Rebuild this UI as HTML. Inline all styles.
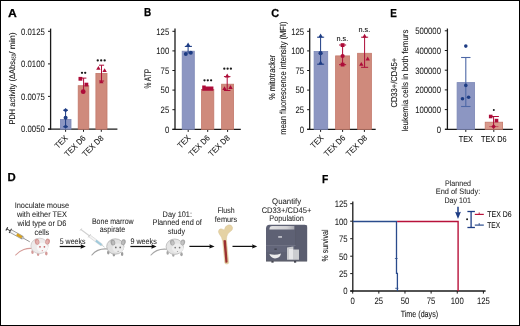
<!DOCTYPE html>
<html><head><meta charset="utf-8"><style>
html,body{margin:0;padding:0;background:#fff;}
svg{display:block;font-family:"Liberation Sans", sans-serif;will-change:transform;text-rendering:geometricPrecision;}
</style></head><body>
<svg width="520" height="326" viewBox="0 0 520 326">
<rect x="0" y="0" width="520" height="326" fill="#fff"/>
<text x="7.9" y="16.7" font-size="11.6" font-weight="bold" fill="#000" stroke="#000" stroke-width="0.25" textLength="8.8" lengthAdjust="spacingAndGlyphs">A</text>
<text x="143.9" y="16.4" font-size="11.6" font-weight="bold" fill="#000" stroke="#000" stroke-width="0.25" textLength="7.2" lengthAdjust="spacingAndGlyphs">B</text>
<text x="271.3" y="16.5" font-size="11.6" font-weight="bold" fill="#000" stroke="#000" stroke-width="0.25" textLength="7.8" lengthAdjust="spacingAndGlyphs">C</text>
<text x="390.2" y="16.8" font-size="11.6" font-weight="bold" fill="#000" stroke="#000" stroke-width="0.25" textLength="6.6" lengthAdjust="spacingAndGlyphs">E</text>
<text x="7.4" y="181.3" font-size="11.6" font-weight="bold" fill="#000" stroke="#000" stroke-width="0.25" textLength="8.2" lengthAdjust="spacingAndGlyphs">D</text>
<text x="322.0" y="183.2" font-size="11.6" font-weight="bold" fill="#000" stroke="#000" stroke-width="0.25" textLength="6.3" lengthAdjust="spacingAndGlyphs">F</text>
<line x1="50.6" y1="28.6" x2="50.6" y2="129.79999999999998" stroke="#1a1a1a" stroke-width="1.3"/>
<line x1="48.0" y1="31.3" x2="50.6" y2="31.3" stroke="#1a1a1a" stroke-width="1.0"/>
<text x="44.8" y="34.6" font-size="9.4" text-anchor="end" fill="#1a1a1a" font-weight="normal" stroke="#1a1a1a" stroke-width="0.05" textLength="23.7" lengthAdjust="spacingAndGlyphs" >0.0125</text>
<line x1="48.0" y1="63.9" x2="50.6" y2="63.9" stroke="#1a1a1a" stroke-width="1.0"/>
<text x="44.8" y="67.2" font-size="9.4" text-anchor="end" fill="#1a1a1a" font-weight="normal" stroke="#1a1a1a" stroke-width="0.05" textLength="23.7" lengthAdjust="spacingAndGlyphs" >0.0100</text>
<line x1="48.0" y1="96.4" x2="50.6" y2="96.4" stroke="#1a1a1a" stroke-width="1.0"/>
<text x="44.8" y="99.7" font-size="9.4" text-anchor="end" fill="#1a1a1a" font-weight="normal" stroke="#1a1a1a" stroke-width="0.05" textLength="23.7" lengthAdjust="spacingAndGlyphs" >0.0075</text>
<line x1="48.0" y1="129.0" x2="50.6" y2="129.0" stroke="#1a1a1a" stroke-width="1.0"/>
<text x="44.8" y="132.3" font-size="9.4" text-anchor="end" fill="#1a1a1a" font-weight="normal" stroke="#1a1a1a" stroke-width="0.05" textLength="23.7" lengthAdjust="spacingAndGlyphs" >0.0050</text>
<line x1="48.0" y1="129.2" x2="117.4" y2="129.2" stroke="#1a1a1a" stroke-width="1.3"/>
<line x1="65.6" y1="129.2" x2="65.6" y2="131.79999999999998" stroke="#1a1a1a" stroke-width="1.0"/>
<line x1="83.5" y1="129.2" x2="83.5" y2="131.79999999999998" stroke="#1a1a1a" stroke-width="1.0"/>
<line x1="101.3" y1="129.2" x2="101.3" y2="131.79999999999998" stroke="#1a1a1a" stroke-width="1.0"/>
<rect x="60.4" y="119.4" width="10.600000000000005" height="9.799999999999988" fill="#8c96c2" stroke="#7c88b6" stroke-width="0.8"/>
<rect x="78.2" y="85.7" width="10.600000000000005" height="43.49999999999999" fill="#cf8a7c" stroke="#c4796b" stroke-width="0.8"/>
<rect x="95.9" y="73.4" width="11.100000000000005" height="55.79999999999999" fill="#cf8a7c" stroke="#c4796b" stroke-width="0.8"/>
<line x1="65.6" y1="110.2" x2="65.6" y2="126.6" stroke="#1d3c84" stroke-width="1.0"/>
<line x1="63.2" y1="110.2" x2="68.0" y2="110.2" stroke="#1d3c84" stroke-width="1.0"/>
<path d="M65.6 108.0L67.8 110.2L65.6 112.4L63.39999999999999 110.2Z" fill="#1d3c84"/>
<circle cx="65.6" cy="117.8" r="2.0" fill="#1d3c84"/>
<line x1="63.2" y1="126.8" x2="68.0" y2="126.8" stroke="#1d3c84" stroke-width="1.0"/>
<path d="M65.6 124.39999999999999L67.8 126.6L65.6 128.79999999999998L63.39999999999999 126.6Z" fill="#1d3c84"/>
<line x1="83.6" y1="78.1" x2="83.6" y2="91.7" stroke="#ad0c38" stroke-width="1.0"/>
<line x1="80.6" y1="78.1" x2="86.4" y2="78.1" stroke="#ad0c38" stroke-width="1.0"/>
<rect x="78.5" y="76.89999999999999" width="3.8" height="3.8" fill="#ad0c38"/>
<rect x="84.5" y="82.69999999999999" width="3.8" height="3.8" fill="#ad0c38"/>
<circle cx="83.2" cy="91.7" r="2.4" fill="#ad0c38"/>
<line x1="101.5" y1="65.2" x2="101.5" y2="81.2" stroke="#ad0c38" stroke-width="1.0"/>
<line x1="99.0" y1="65.2" x2="104.1" y2="65.2" stroke="#ad0c38" stroke-width="1.0"/>
<line x1="99.0" y1="81.0" x2="104.1" y2="81.0" stroke="#ad0c38" stroke-width="1.0"/>
<path d="M98.4 65.9L100.60000000000001 69.7L96.2 69.7Z" fill="#ad0c38"/>
<path d="M104.6 68.30000000000001L106.8 72.10000000000001L102.39999999999999 72.10000000000001Z" fill="#ad0c38"/>
<path d="M101.3 79.5L103.5 83.3L99.1 83.3Z" fill="#ad0c38"/>
<circle cx="82.00" cy="72.8" r="1.15" fill="#1a1a1a"/>
<circle cx="85.20" cy="72.8" r="1.15" fill="#1a1a1a"/>
<circle cx="97.75" cy="60.4" r="1.15" fill="#1a1a1a"/>
<circle cx="101.20" cy="60.4" r="1.15" fill="#1a1a1a"/>
<circle cx="104.65" cy="60.4" r="1.15" fill="#1a1a1a"/>
<text transform="translate(68.39999999999999,138.7) rotate(-45)" font-size="8.2" text-anchor="end" fill="#111" stroke="#111" stroke-width="0.08" textLength="14.59" lengthAdjust="spacingAndGlyphs">TEX</text>
<text transform="translate(86.3,138.7) rotate(-45)" font-size="8.2" text-anchor="end" fill="#111" stroke="#111" stroke-width="0.08" textLength="26.26" lengthAdjust="spacingAndGlyphs">TEX D6</text>
<text transform="translate(104.1,138.7) rotate(-45)" font-size="8.2" text-anchor="end" fill="#111" stroke="#111" stroke-width="0.08" textLength="26.26" lengthAdjust="spacingAndGlyphs">TEX D8</text>
<g transform="translate(14.5,124.6) rotate(-90)" fill="#111" stroke="#111" stroke-width="0.08"><text x="0" y="0" font-size="8.3" textLength="63.5" lengthAdjust="spacingAndGlyphs">PDH activity (ΔAbs</text><text x="63.8" y="1.9" font-size="6.3" textLength="6.8" lengthAdjust="spacingAndGlyphs">450</text><text x="70.6" y="0" font-size="8.3" textLength="21.6" lengthAdjust="spacingAndGlyphs">/ min)</text></g>
<line x1="175.0" y1="28.5" x2="175.0" y2="129.9" stroke="#1a1a1a" stroke-width="1.3"/>
<line x1="172.4" y1="31.3" x2="175.0" y2="31.3" stroke="#1a1a1a" stroke-width="1.0"/>
<text x="169.2" y="34.6" font-size="9.4" text-anchor="end" fill="#1a1a1a" font-weight="normal" stroke="#1a1a1a" stroke-width="0.05" textLength="12.93" lengthAdjust="spacingAndGlyphs" >125</text>
<line x1="172.4" y1="50.9" x2="175.0" y2="50.9" stroke="#1a1a1a" stroke-width="1.0"/>
<text x="169.2" y="54.199999999999996" font-size="9.4" text-anchor="end" fill="#1a1a1a" font-weight="normal" stroke="#1a1a1a" stroke-width="0.05" textLength="12.93" lengthAdjust="spacingAndGlyphs" >100</text>
<line x1="172.4" y1="70.5" x2="175.0" y2="70.5" stroke="#1a1a1a" stroke-width="1.0"/>
<text x="169.2" y="73.8" font-size="9.4" text-anchor="end" fill="#1a1a1a" font-weight="normal" stroke="#1a1a1a" stroke-width="0.05" textLength="8.62" lengthAdjust="spacingAndGlyphs" >75</text>
<line x1="172.4" y1="90.1" x2="175.0" y2="90.1" stroke="#1a1a1a" stroke-width="1.0"/>
<text x="169.2" y="93.39999999999999" font-size="9.4" text-anchor="end" fill="#1a1a1a" font-weight="normal" stroke="#1a1a1a" stroke-width="0.05" textLength="8.62" lengthAdjust="spacingAndGlyphs" >50</text>
<line x1="172.4" y1="109.7" x2="175.0" y2="109.7" stroke="#1a1a1a" stroke-width="1.0"/>
<text x="169.2" y="113.0" font-size="9.4" text-anchor="end" fill="#1a1a1a" font-weight="normal" stroke="#1a1a1a" stroke-width="0.05" textLength="8.62" lengthAdjust="spacingAndGlyphs" >25</text>
<line x1="172.4" y1="129.3" x2="175.0" y2="129.3" stroke="#1a1a1a" stroke-width="1.0"/>
<text x="169.2" y="132.60000000000002" font-size="9.4" text-anchor="end" fill="#1a1a1a" font-weight="normal" stroke="#1a1a1a" stroke-width="0.05" textLength="4.31" lengthAdjust="spacingAndGlyphs" >0</text>
<line x1="172.4" y1="129.3" x2="240.8" y2="129.3" stroke="#1a1a1a" stroke-width="1.3"/>
<line x1="188.2" y1="129.3" x2="188.2" y2="131.9" stroke="#1a1a1a" stroke-width="1.0"/>
<line x1="207.7" y1="129.3" x2="207.7" y2="131.9" stroke="#1a1a1a" stroke-width="1.0"/>
<line x1="227.6" y1="129.3" x2="227.6" y2="131.9" stroke="#1a1a1a" stroke-width="1.0"/>
<rect x="182.20000000000002" y="51.199999999999996" width="12.099999999999977" height="78.10000000000001" fill="#8c96c2" stroke="#7c88b6" stroke-width="0.8"/>
<rect x="201.5" y="89.5" width="12.299999999999994" height="39.80000000000002" fill="#cf8a7c" stroke="#c4796b" stroke-width="0.8"/>
<rect x="221.6" y="84.2" width="12.00000000000001" height="45.100000000000016" fill="#cf8a7c" stroke="#c4796b" stroke-width="0.8"/>
<line x1="188.1" y1="46.4" x2="188.1" y2="53.6" stroke="#1d3c84" stroke-width="1.0"/>
<line x1="184.8" y1="46.4" x2="191.9" y2="46.4" stroke="#1d3c84" stroke-width="1.1"/>
<path d="M188.1 42.48L190.73999999999998 47.04L185.46 47.04Z" fill="#1d3c84"/>
<circle cx="185.8" cy="54.1" r="2.0" fill="#1d3c84"/>
<circle cx="190.8" cy="52.7" r="2.0" fill="#1d3c84"/>
<path d="M202.2 85.5H205.7V86.6H213.4V90.8H202.2Z" fill="#ad0c38"/>
<circle cx="204.50" cy="80.3" r="1.15" fill="#1a1a1a"/>
<circle cx="207.80" cy="80.3" r="1.15" fill="#1a1a1a"/>
<circle cx="211.10" cy="80.3" r="1.15" fill="#1a1a1a"/>
<line x1="227.2" y1="76.6" x2="227.2" y2="90.5" stroke="#ad0c38" stroke-width="1.0"/>
<line x1="223.95" y1="76.6" x2="230.45" y2="76.6" stroke="#ad0c38" stroke-width="1.0"/>
<line x1="223.95" y1="90.5" x2="230.45" y2="90.5" stroke="#ad0c38" stroke-width="1.0"/>
<path d="M227.2 73.395L229.51 77.38499999999999L224.89 77.38499999999999Z" fill="#ad0c38"/>
<path d="M224.5 86.2L226.7 90.0L222.3 90.0Z" fill="#ad0c38"/>
<path d="M230.5 85.10000000000001L232.7 88.9L228.3 88.9Z" fill="#ad0c38"/>
<circle cx="224.30" cy="68.7" r="1.15" fill="#1a1a1a"/>
<circle cx="227.60" cy="68.7" r="1.15" fill="#1a1a1a"/>
<circle cx="230.90" cy="68.7" r="1.15" fill="#1a1a1a"/>
<text transform="translate(191.0,138.5) rotate(-45)" font-size="8.2" text-anchor="end" fill="#111" stroke="#111" stroke-width="0.08" textLength="14.59" lengthAdjust="spacingAndGlyphs">TEX</text>
<text transform="translate(210.5,138.5) rotate(-45)" font-size="8.2" text-anchor="end" fill="#111" stroke="#111" stroke-width="0.08" textLength="26.26" lengthAdjust="spacingAndGlyphs">TEX D6</text>
<text transform="translate(230.4,138.5) rotate(-45)" font-size="8.2" text-anchor="end" fill="#111" stroke="#111" stroke-width="0.08" textLength="26.26" lengthAdjust="spacingAndGlyphs">TEX D8</text>
<text transform="translate(150.8,78.7) rotate(-90)" font-size="9.6" text-anchor="middle" fill="#111" stroke="#111" stroke-width="0.08" textLength="19.6" lengthAdjust="spacingAndGlyphs">% ATP</text>
<line x1="309.7" y1="28.3" x2="309.7" y2="129.9" stroke="#1a1a1a" stroke-width="1.3"/>
<line x1="307.09999999999997" y1="31.3" x2="309.7" y2="31.3" stroke="#1a1a1a" stroke-width="1.0"/>
<text x="304.1" y="34.6" font-size="9.4" text-anchor="end" fill="#1a1a1a" font-weight="normal" stroke="#1a1a1a" stroke-width="0.05" textLength="12.93" lengthAdjust="spacingAndGlyphs" >125</text>
<line x1="307.09999999999997" y1="50.9" x2="309.7" y2="50.9" stroke="#1a1a1a" stroke-width="1.0"/>
<text x="304.1" y="54.199999999999996" font-size="9.4" text-anchor="end" fill="#1a1a1a" font-weight="normal" stroke="#1a1a1a" stroke-width="0.05" textLength="12.93" lengthAdjust="spacingAndGlyphs" >100</text>
<line x1="307.09999999999997" y1="70.5" x2="309.7" y2="70.5" stroke="#1a1a1a" stroke-width="1.0"/>
<text x="304.1" y="73.8" font-size="9.4" text-anchor="end" fill="#1a1a1a" font-weight="normal" stroke="#1a1a1a" stroke-width="0.05" textLength="8.62" lengthAdjust="spacingAndGlyphs" >75</text>
<line x1="307.09999999999997" y1="90.1" x2="309.7" y2="90.1" stroke="#1a1a1a" stroke-width="1.0"/>
<text x="304.1" y="93.39999999999999" font-size="9.4" text-anchor="end" fill="#1a1a1a" font-weight="normal" stroke="#1a1a1a" stroke-width="0.05" textLength="8.62" lengthAdjust="spacingAndGlyphs" >50</text>
<line x1="307.09999999999997" y1="109.7" x2="309.7" y2="109.7" stroke="#1a1a1a" stroke-width="1.0"/>
<text x="304.1" y="113.0" font-size="9.4" text-anchor="end" fill="#1a1a1a" font-weight="normal" stroke="#1a1a1a" stroke-width="0.05" textLength="8.62" lengthAdjust="spacingAndGlyphs" >25</text>
<line x1="307.09999999999997" y1="129.3" x2="309.7" y2="129.3" stroke="#1a1a1a" stroke-width="1.0"/>
<text x="304.1" y="132.60000000000002" font-size="9.4" text-anchor="end" fill="#1a1a1a" font-weight="normal" stroke="#1a1a1a" stroke-width="0.05" textLength="4.31" lengthAdjust="spacingAndGlyphs" >0</text>
<line x1="307.2" y1="129.3" x2="375.7" y2="129.3" stroke="#1a1a1a" stroke-width="1.3"/>
<line x1="320.6" y1="129.3" x2="320.6" y2="131.9" stroke="#1a1a1a" stroke-width="1.0"/>
<line x1="342.6" y1="129.3" x2="342.6" y2="131.9" stroke="#1a1a1a" stroke-width="1.0"/>
<line x1="364.4" y1="129.3" x2="364.4" y2="131.9" stroke="#1a1a1a" stroke-width="1.0"/>
<rect x="314.09999999999997" y="51.5" width="13.600000000000033" height="77.80000000000001" fill="#8c96c2" stroke="#7c88b6" stroke-width="0.8"/>
<rect x="335.59999999999997" y="55.9" width="14.00000000000001" height="73.4" fill="#cf8a7c" stroke="#c4796b" stroke-width="0.8"/>
<rect x="357.59999999999997" y="53.3" width="13.800000000000022" height="76.0" fill="#cf8a7c" stroke="#c4796b" stroke-width="0.8"/>
<line x1="320.6" y1="37.2" x2="320.6" y2="64.2" stroke="#1d3c84" stroke-width="1.0"/>
<line x1="317.05" y1="37.2" x2="324.15000000000003" y2="37.2" stroke="#1d3c84" stroke-width="1.0"/>
<line x1="317.05" y1="64.2" x2="324.15000000000003" y2="64.2" stroke="#1d3c84" stroke-width="1.0"/>
<path d="M320.6 33.595L322.91 37.584999999999994L318.29 37.584999999999994Z" fill="#1d3c84"/>
<circle cx="320.6" cy="53.2" r="2.1" fill="#1d3c84"/>
<path d="M320.6 60.595L322.91 64.585L318.29 64.585Z" fill="#1d3c84"/>
<line x1="342.6" y1="45.0" x2="342.6" y2="64.7" stroke="#ad0c38" stroke-width="1.0"/>
<line x1="339.05" y1="45.0" x2="346.15000000000003" y2="45.0" stroke="#ad0c38" stroke-width="1.0"/>
<line x1="339.05" y1="64.7" x2="346.15000000000003" y2="64.7" stroke="#ad0c38" stroke-width="1.0"/>
<rect x="340.70000000000005" y="43.2" width="3.8" height="3.8" fill="#ad0c38"/>
<circle cx="342.6" cy="56.0" r="2.1" fill="#ad0c38"/>
<rect x="340.70000000000005" y="62.699999999999996" width="3.8" height="3.8" fill="#ad0c38"/>
<line x1="364.6" y1="37.2" x2="364.6" y2="67.3" stroke="#ad0c38" stroke-width="1.0"/>
<line x1="361.05" y1="37.2" x2="368.15000000000003" y2="37.2" stroke="#ad0c38" stroke-width="1.0"/>
<line x1="361.05" y1="67.3" x2="368.15000000000003" y2="67.3" stroke="#ad0c38" stroke-width="1.0"/>
<path d="M364.6 33.795L366.91 37.785L362.29 37.785Z" fill="#ad0c38"/>
<path d="M361.3 61.9L363.5 65.7L359.1 65.7Z" fill="#ad0c38"/>
<path d="M367.7 56.6L369.9 60.400000000000006L365.5 60.400000000000006Z" fill="#ad0c38"/>
<text x="342.4" y="41.4" font-size="7.3" text-anchor="middle" fill="#111" font-weight="normal" stroke="#111" stroke-width="0.08" >n.s.</text>
<text x="364.3" y="32.1" font-size="7.3" text-anchor="middle" fill="#111" font-weight="normal" stroke="#111" stroke-width="0.08" >n.s.</text>
<text transform="translate(324.0,138.5) rotate(-45)" font-size="8.2" text-anchor="end" fill="#111" stroke="#111" stroke-width="0.08" textLength="14.59" lengthAdjust="spacingAndGlyphs">TEX</text>
<text transform="translate(345.90000000000003,138.5) rotate(-45)" font-size="8.2" text-anchor="end" fill="#111" stroke="#111" stroke-width="0.08" textLength="26.26" lengthAdjust="spacingAndGlyphs">TEX D6</text>
<text transform="translate(367.8,138.5) rotate(-45)" font-size="8.2" text-anchor="end" fill="#111" stroke="#111" stroke-width="0.08" textLength="26.26" lengthAdjust="spacingAndGlyphs">TEX D8</text>
<text transform="translate(275.1,77.3) rotate(-90)" font-size="8.8" text-anchor="middle" fill="#111" stroke="#111" stroke-width="0.08" textLength="45.0" lengthAdjust="spacingAndGlyphs">% mitotracker</text>
<text transform="translate(286.4,78.2) rotate(-90)" font-size="8.8" text-anchor="middle" fill="#111" stroke="#111" stroke-width="0.08" textLength="113.3" lengthAdjust="spacingAndGlyphs">mean fluorescence intensity (MFI)</text>
<line x1="447.4" y1="28.5" x2="447.4" y2="129.9" stroke="#1a1a1a" stroke-width="1.3"/>
<line x1="444.79999999999995" y1="30.8" x2="447.4" y2="30.8" stroke="#1a1a1a" stroke-width="1.0"/>
<text x="441.0" y="34.1" font-size="9.4" text-anchor="end" fill="#1a1a1a" font-weight="normal" stroke="#1a1a1a" stroke-width="0.05" textLength="25.86" lengthAdjust="spacingAndGlyphs" >500000</text>
<line x1="444.79999999999995" y1="50.5" x2="447.4" y2="50.5" stroke="#1a1a1a" stroke-width="1.0"/>
<text x="441.0" y="53.8" font-size="9.4" text-anchor="end" fill="#1a1a1a" font-weight="normal" stroke="#1a1a1a" stroke-width="0.05" textLength="25.86" lengthAdjust="spacingAndGlyphs" >400000</text>
<line x1="444.79999999999995" y1="70.2" x2="447.4" y2="70.2" stroke="#1a1a1a" stroke-width="1.0"/>
<text x="441.0" y="73.5" font-size="9.4" text-anchor="end" fill="#1a1a1a" font-weight="normal" stroke="#1a1a1a" stroke-width="0.05" textLength="25.86" lengthAdjust="spacingAndGlyphs" >300000</text>
<line x1="444.79999999999995" y1="89.9" x2="447.4" y2="89.9" stroke="#1a1a1a" stroke-width="1.0"/>
<text x="441.0" y="93.2" font-size="9.4" text-anchor="end" fill="#1a1a1a" font-weight="normal" stroke="#1a1a1a" stroke-width="0.05" textLength="25.86" lengthAdjust="spacingAndGlyphs" >200000</text>
<line x1="444.79999999999995" y1="109.6" x2="447.4" y2="109.6" stroke="#1a1a1a" stroke-width="1.0"/>
<text x="441.0" y="112.89999999999999" font-size="9.4" text-anchor="end" fill="#1a1a1a" font-weight="normal" stroke="#1a1a1a" stroke-width="0.05" textLength="25.86" lengthAdjust="spacingAndGlyphs" >100000</text>
<line x1="444.79999999999995" y1="129.3" x2="447.4" y2="129.3" stroke="#1a1a1a" stroke-width="1.0"/>
<text x="441.0" y="132.60000000000002" font-size="9.4" text-anchor="end" fill="#1a1a1a" font-weight="normal" stroke="#1a1a1a" stroke-width="0.05" textLength="4.31" lengthAdjust="spacingAndGlyphs" >0</text>
<line x1="445.0" y1="129.3" x2="512.8" y2="129.3" stroke="#1a1a1a" stroke-width="1.3"/>
<line x1="465.8" y1="129.3" x2="465.8" y2="131.9" stroke="#1a1a1a" stroke-width="1.0"/>
<line x1="493.8" y1="129.3" x2="493.8" y2="131.9" stroke="#1a1a1a" stroke-width="1.0"/>
<rect x="457.09999999999997" y="82.60000000000001" width="17.50000000000001" height="46.70000000000001" fill="#8c96c2" stroke="#7c88b6" stroke-width="0.8"/>
<rect x="485.2" y="122.2" width="17.399999999999988" height="7.100000000000014" fill="#d99a8c" stroke="#c4796b" stroke-width="0.8"/>
<line x1="465.8" y1="57.5" x2="465.8" y2="106.5" stroke="#4d67a6" stroke-width="1.1"/>
<line x1="461.1" y1="57.5" x2="470.5" y2="57.5" stroke="#4d67a6" stroke-width="1.1"/>
<line x1="461.1" y1="106.5" x2="470.5" y2="106.5" stroke="#4d67a6" stroke-width="1.1"/>
<circle cx="465.8" cy="46.1" r="1.8" fill="#1d3c84"/>
<circle cx="465.8" cy="85.4" r="1.8" fill="#1d3c84"/>
<circle cx="462.5" cy="98.7" r="1.8" fill="#1d3c84"/>
<circle cx="468.6" cy="97.2" r="1.8" fill="#1d3c84"/>
<line x1="493.6" y1="116.5" x2="493.6" y2="126.6" stroke="#ad0c38" stroke-width="1.0"/>
<line x1="490.0" y1="116.5" x2="498.9" y2="116.5" stroke="#ad0c38" stroke-width="1.0"/>
<line x1="489.2" y1="126.6" x2="498.4" y2="126.6" stroke="#c44a5a" stroke-width="0.9"/>
<rect x="488.9" y="114.7" width="3.6" height="3.6" fill="#ad0c38"/>
<rect x="494.7" y="118.8" width="3.6" height="3.6" fill="#ad0c38"/>
<path d="M493.6 124.3L495.90000000000003 126.6L493.6 128.9L491.3 126.6Z" fill="#ad0c38"/>
<circle cx="493.80" cy="110.1" r="1.0" fill="#1a1a1a"/>
<text x="465.8" y="141.9" font-size="8.6" text-anchor="middle" fill="#111" font-weight="normal" stroke="#111" stroke-width="0.08" textLength="14.1" lengthAdjust="spacingAndGlyphs" >TEX</text>
<text x="493.8" y="141.9" font-size="8.6" text-anchor="middle" fill="#111" font-weight="normal" stroke="#111" stroke-width="0.08" textLength="25.6" lengthAdjust="spacingAndGlyphs" >TEX D6</text>
<text transform="translate(397.4,82.7) rotate(-90)" font-size="8.6" text-anchor="middle" fill="#111" stroke="#111" stroke-width="0.08" textLength="49.8" lengthAdjust="spacingAndGlyphs">CD33+/CD45+</text>
<text transform="translate(407.5,80.6) rotate(-90)" font-size="8.6" text-anchor="middle" fill="#111" stroke="#111" stroke-width="0.08" textLength="102.0" lengthAdjust="spacingAndGlyphs">leukemia cells in both femurs</text>
<line x1="352.8" y1="201.4" x2="352.8" y2="291.6" stroke="#1a1a1a" stroke-width="1.3"/>
<line x1="350.2" y1="203.7" x2="352.8" y2="203.7" stroke="#1a1a1a" stroke-width="1.0"/>
<text x="347.6" y="207.0" font-size="9.4" text-anchor="end" fill="#1a1a1a" font-weight="normal" stroke="#1a1a1a" stroke-width="0.05" textLength="12.93" lengthAdjust="spacingAndGlyphs" >125</text>
<line x1="350.2" y1="221.2" x2="352.8" y2="221.2" stroke="#1a1a1a" stroke-width="1.0"/>
<text x="347.6" y="224.5" font-size="9.4" text-anchor="end" fill="#1a1a1a" font-weight="normal" stroke="#1a1a1a" stroke-width="0.05" textLength="12.93" lengthAdjust="spacingAndGlyphs" >100</text>
<line x1="350.2" y1="238.7" x2="352.8" y2="238.7" stroke="#1a1a1a" stroke-width="1.0"/>
<text x="347.6" y="242.0" font-size="9.4" text-anchor="end" fill="#1a1a1a" font-weight="normal" stroke="#1a1a1a" stroke-width="0.05" textLength="8.62" lengthAdjust="spacingAndGlyphs" >75</text>
<line x1="350.2" y1="256.2" x2="352.8" y2="256.2" stroke="#1a1a1a" stroke-width="1.0"/>
<text x="347.6" y="259.5" font-size="9.4" text-anchor="end" fill="#1a1a1a" font-weight="normal" stroke="#1a1a1a" stroke-width="0.05" textLength="8.62" lengthAdjust="spacingAndGlyphs" >50</text>
<line x1="350.2" y1="273.6" x2="352.8" y2="273.6" stroke="#1a1a1a" stroke-width="1.0"/>
<text x="347.6" y="276.90000000000003" font-size="9.4" text-anchor="end" fill="#1a1a1a" font-weight="normal" stroke="#1a1a1a" stroke-width="0.05" textLength="8.62" lengthAdjust="spacingAndGlyphs" >25</text>
<line x1="350.2" y1="291.0" x2="352.8" y2="291.0" stroke="#1a1a1a" stroke-width="1.0"/>
<text x="347.6" y="294.3" font-size="9.4" text-anchor="end" fill="#1a1a1a" font-weight="normal" stroke="#1a1a1a" stroke-width="0.05" textLength="4.31" lengthAdjust="spacingAndGlyphs" >0</text>
<line x1="350.3" y1="291.0" x2="485.6" y2="291.0" stroke="#1a1a1a" stroke-width="1.3"/>
<line x1="352.7" y1="291.0" x2="352.7" y2="293.6" stroke="#1a1a1a" stroke-width="1.0"/>
<line x1="378.84" y1="291.0" x2="378.84" y2="293.6" stroke="#1a1a1a" stroke-width="1.0"/>
<line x1="404.98" y1="291.0" x2="404.98" y2="293.6" stroke="#1a1a1a" stroke-width="1.0"/>
<line x1="431.12" y1="291.0" x2="431.12" y2="293.6" stroke="#1a1a1a" stroke-width="1.0"/>
<line x1="457.26" y1="291.0" x2="457.26" y2="293.6" stroke="#1a1a1a" stroke-width="1.0"/>
<line x1="483.4" y1="291.0" x2="483.4" y2="293.6" stroke="#1a1a1a" stroke-width="1.0"/>
<text x="352.7" y="304.0" font-size="9.4" text-anchor="middle" fill="#1a1a1a" font-weight="normal" stroke="#1a1a1a" stroke-width="0.05" textLength="4.31" lengthAdjust="spacingAndGlyphs" >0</text>
<text x="378.84" y="304.0" font-size="9.4" text-anchor="middle" fill="#1a1a1a" font-weight="normal" stroke="#1a1a1a" stroke-width="0.05" textLength="8.62" lengthAdjust="spacingAndGlyphs" >25</text>
<text x="404.98" y="304.0" font-size="9.4" text-anchor="middle" fill="#1a1a1a" font-weight="normal" stroke="#1a1a1a" stroke-width="0.05" textLength="8.62" lengthAdjust="spacingAndGlyphs" >50</text>
<text x="431.12" y="304.0" font-size="9.4" text-anchor="middle" fill="#1a1a1a" font-weight="normal" stroke="#1a1a1a" stroke-width="0.05" textLength="8.62" lengthAdjust="spacingAndGlyphs" >75</text>
<text x="457.26" y="304.0" font-size="9.4" text-anchor="middle" fill="#1a1a1a" font-weight="normal" stroke="#1a1a1a" stroke-width="0.05" textLength="12.93" lengthAdjust="spacingAndGlyphs" >100</text>
<text x="483.4" y="304.0" font-size="9.4" text-anchor="middle" fill="#1a1a1a" font-weight="normal" stroke="#1a1a1a" stroke-width="0.05" textLength="12.93" lengthAdjust="spacingAndGlyphs" >125</text>
<text transform="translate(327.8,245.5) rotate(-90)" font-size="8.8" text-anchor="middle" fill="#111" stroke="#111" stroke-width="0.08" textLength="32.0" lengthAdjust="spacingAndGlyphs">% survival</text>
<text x="419.4" y="316.6" font-size="9.0" text-anchor="middle" fill="#111" font-weight="normal" stroke="#111" stroke-width="0.08" textLength="37.4" lengthAdjust="spacingAndGlyphs" >Time (days)</text>
<path d="M352.8 221.5H396.5V273.4H397.4V291" fill="none" stroke="#2a4b8c" stroke-width="1.3"/>
<line x1="394.9" y1="258.5" x2="397.6" y2="258.5" stroke="#2a4b8c" stroke-width="0.8"/>
<line x1="395.2" y1="288.3" x2="398.4" y2="288.3" stroke="#2a4b8c" stroke-width="0.8"/>
<path d="M397.1 221.5H458.1V291" fill="none" stroke="#b8123a" stroke-width="1.4"/>
<line x1="458.0" y1="206.8" x2="458.0" y2="213" stroke="#1d3c84" stroke-width="1.5"/>
<path d="M455.1 211.8Q458 213.2 460.9 211.8L458 219.0Z" fill="#1d3c84"/>
<text x="458.0" y="185.5" font-size="8.0" text-anchor="middle" fill="#262626" font-weight="normal" stroke="#262626" stroke-width="0.06" textLength="26.1" lengthAdjust="spacingAndGlyphs" >Planned</text>
<text x="458.0" y="194.3" font-size="8.0" text-anchor="middle" fill="#262626" font-weight="normal" stroke="#262626" stroke-width="0.06" textLength="44.4" lengthAdjust="spacingAndGlyphs" >End of Study:</text>
<text x="457.7" y="203.2" font-size="8.0" text-anchor="middle" fill="#262626" font-weight="normal" stroke="#262626" stroke-width="0.06" textLength="26.6" lengthAdjust="spacingAndGlyphs" >Day 101</text>
<line x1="471.1" y1="211.5" x2="471.1" y2="227.5" stroke="#1d3c84" stroke-width="1.3"/>
<line x1="467.4" y1="211.5" x2="474.9" y2="211.5" stroke="#1d3c84" stroke-width="1.3"/>
<line x1="467.4" y1="227.5" x2="474.9" y2="227.5" stroke="#1d3c84" stroke-width="1.3"/>
<circle cx="467.1" cy="219.3" r="0.95" fill="#111"/>
<line x1="474.8" y1="214.4" x2="483.8" y2="214.4" stroke="#b8123a" stroke-width="1.2"/>
<line x1="479.2" y1="212.4" x2="479.2" y2="214.4" stroke="#b8123a" stroke-width="0.9"/>
<line x1="474.8" y1="225.1" x2="483.8" y2="225.1" stroke="#2a4b8c" stroke-width="1.2"/>
<line x1="479.2" y1="223.1" x2="479.2" y2="225.1" stroke="#2a4b8c" stroke-width="0.9"/>
<text x="487.3" y="217.0" font-size="8.4" text-anchor="start" fill="#111" font-weight="normal" stroke="#111" stroke-width="0.08" textLength="24.2" lengthAdjust="spacingAndGlyphs" >TEX D6</text>
<text x="487.3" y="228.0" font-size="8.4" text-anchor="start" fill="#111" font-weight="normal" stroke="#111" stroke-width="0.08" textLength="12.9" lengthAdjust="spacingAndGlyphs" >TEX</text>
<text x="41.9" y="208.4" font-size="8.1" text-anchor="middle" fill="#262626" font-weight="normal" stroke="#262626" stroke-width="0.06" textLength="54.5" lengthAdjust="spacingAndGlyphs" >Inoculate mouse</text>
<text x="41.9" y="217.2" font-size="8.1" text-anchor="middle" fill="#262626" font-weight="normal" stroke="#262626" stroke-width="0.06" textLength="50.0" lengthAdjust="spacingAndGlyphs" >with either TEX</text>
<text x="41.9" y="226.0" font-size="8.1" text-anchor="middle" fill="#262626" font-weight="normal" stroke="#262626" stroke-width="0.06" textLength="49.0" lengthAdjust="spacingAndGlyphs" >wild type or D6</text>
<text x="41.9" y="234.6" font-size="8.1" text-anchor="middle" fill="#262626" font-weight="normal" stroke="#262626" stroke-width="0.06" textLength="14.6" lengthAdjust="spacingAndGlyphs" >cells</text>
<text x="112.8" y="224.3" font-size="8.1" text-anchor="middle" fill="#262626" font-weight="normal" stroke="#262626" stroke-width="0.06" textLength="41.8" lengthAdjust="spacingAndGlyphs" >Bone marrow</text>
<text x="112.5" y="232.0" font-size="8.1" text-anchor="middle" fill="#262626" font-weight="normal" stroke="#262626" stroke-width="0.06" textLength="25.4" lengthAdjust="spacingAndGlyphs" >aspirate</text>
<text x="177.3" y="216.8" font-size="8.1" text-anchor="middle" fill="#262626" font-weight="normal" stroke="#262626" stroke-width="0.06" textLength="29.4" lengthAdjust="spacingAndGlyphs" >Day 101:</text>
<text x="177.2" y="225.4" font-size="8.1" text-anchor="middle" fill="#262626" font-weight="normal" stroke="#262626" stroke-width="0.06" textLength="49.4" lengthAdjust="spacingAndGlyphs" >Planned end of</text>
<text x="176.6" y="234.2" font-size="8.1" text-anchor="middle" fill="#262626" font-weight="normal" stroke="#262626" stroke-width="0.06" textLength="17.1" lengthAdjust="spacingAndGlyphs" >study</text>
<text x="226.0" y="212.8" font-size="8.1" text-anchor="middle" fill="#262626" font-weight="normal" stroke="#262626" stroke-width="0.06" textLength="17.1" lengthAdjust="spacingAndGlyphs" >Flush</text>
<text x="226.0" y="221.6" font-size="8.1" text-anchor="middle" fill="#262626" font-weight="normal" stroke="#262626" stroke-width="0.06" textLength="22.5" lengthAdjust="spacingAndGlyphs" >femurs</text>
<text x="286.6" y="204.0" font-size="8.1" text-anchor="middle" fill="#262626" font-weight="normal" stroke="#262626" stroke-width="0.06" textLength="29.0" lengthAdjust="spacingAndGlyphs" >Quantify</text>
<text x="286.5" y="212.6" font-size="8.1" text-anchor="middle" fill="#262626" font-weight="normal" stroke="#262626" stroke-width="0.06" textLength="49.7" lengthAdjust="spacingAndGlyphs" >CD33+/CD45+</text>
<text x="286.6" y="221.0" font-size="8.1" text-anchor="middle" fill="#262626" font-weight="normal" stroke="#262626" stroke-width="0.06" textLength="34.6" lengthAdjust="spacingAndGlyphs" >Population</text>
<text x="72.6" y="243.6" font-size="8.1" text-anchor="middle" fill="#262626" font-weight="normal" stroke="#262626" stroke-width="0.06" textLength="25.7" lengthAdjust="spacingAndGlyphs" >5 weeks</text>
<text x="143.6" y="243.6" font-size="8.1" text-anchor="middle" fill="#262626" font-weight="normal" stroke="#262626" stroke-width="0.06" textLength="26.4" lengthAdjust="spacingAndGlyphs" >9 weeks</text>
<line x1="59.7" y1="246.5" x2="82.8" y2="246.5" stroke="#111" stroke-width="1.25"/>
<path d="M80.6 244.3Q81.6 246.5 80.6 248.7L85.8 246.5Z" fill="#111"/>
<line x1="130.4" y1="246.5" x2="153.6" y2="246.5" stroke="#111" stroke-width="1.25"/>
<path d="M151.4 244.3Q152.4 246.5 151.4 248.7L156.6 246.5Z" fill="#111"/>
<line x1="189.4" y1="246.4" x2="211.6" y2="246.4" stroke="#111" stroke-width="1.25"/>
<path d="M209.4 244.20000000000002Q210.4 246.4 209.4 248.6L214.6 246.4Z" fill="#111"/>
<line x1="232.5" y1="246.4" x2="254.2" y2="246.4" stroke="#111" stroke-width="1.25"/>
<path d="M252.0 244.20000000000002Q253.0 246.4 252.0 248.6L257.2 246.4Z" fill="#111"/>
<g transform="translate(39.5,245.4)"><path d="M-7.8 3.0 C-12 2.6 -19.3 4.099999999999994 -23.8 9.599999999999994" fill="none" stroke="#d59b97" stroke-width="1.15" stroke-linecap="round"/><ellipse cx="-7.0" cy="6.6" rx="1.25" ry="2.0" fill="#d49a98"/><ellipse cx="-1.4" cy="8.5" rx="1.25" ry="2.0" fill="#d49a98"/><ellipse cx="6.8" cy="8.0" rx="1.25" ry="2.0" fill="#d49a98"/><ellipse cx="0" cy="0.5" rx="8.6" ry="7.7" fill="#eeebeb" stroke="#cdc6c6" stroke-width="0.8"/><ellipse cx="2.9" cy="2.0" rx="5.6" ry="4.6" fill="#f8f7f7"/><ellipse cx="-2.4" cy="-3.6" rx="2.3" ry="3.0" transform="rotate(-12 -2.4 -3.6)" fill="#d39693"/><ellipse cx="-2.1" cy="-3.3" rx="1.3" ry="2.0" transform="rotate(-12 -2.1 -3.3)" fill="#e4b3b1"/><ellipse cx="8.1" cy="-3.8" rx="2.3" ry="3.0" transform="rotate(14 8.1 -3.8)" fill="#d39693"/><ellipse cx="7.8" cy="-3.5" rx="1.3" ry="2.0" transform="rotate(14 7.8 -3.5)" fill="#e4b3b1"/><circle cx="0.5" cy="1.4" r="0.85" fill="#c25f63"/><circle cx="4.9" cy="1.4" r="0.85" fill="#c25f63"/><circle cx="2.8" cy="5.3" r="0.6" fill="#c25f63" opacity="0.7"/></g>
<g transform="translate(115.3,246.0)"><path d="M-7.8 3.0 C-12 2.6 -18.89999999999999 3.5 -23.39999999999999 9.0" fill="none" stroke="#a0a0a0" stroke-width="1.15" stroke-linecap="round"/><ellipse cx="-7.0" cy="6.6" rx="1.25" ry="2.0" fill="#9c9c9c"/><ellipse cx="-1.4" cy="8.5" rx="1.25" ry="2.0" fill="#9c9c9c"/><ellipse cx="6.8" cy="8.0" rx="1.25" ry="2.0" fill="#9c9c9c"/><ellipse cx="0" cy="0.5" rx="8.6" ry="7.7" fill="#e0e0e0" stroke="#b0b0b0" stroke-width="0.8"/><ellipse cx="2.9" cy="2.0" rx="5.6" ry="4.6" fill="#ebebeb"/><ellipse cx="-2.4" cy="-3.6" rx="2.3" ry="3.0" transform="rotate(-12 -2.4 -3.6)" fill="#a3a3a3"/><ellipse cx="-2.1" cy="-3.3" rx="1.3" ry="2.0" transform="rotate(-12 -2.1 -3.3)" fill="#bcbcbc"/><ellipse cx="8.1" cy="-3.8" rx="2.3" ry="3.0" transform="rotate(14 8.1 -3.8)" fill="#a3a3a3"/><ellipse cx="7.8" cy="-3.5" rx="1.3" ry="2.0" transform="rotate(14 7.8 -3.5)" fill="#bcbcbc"/><circle cx="0.5" cy="1.4" r="0.85" fill="#6d6d6d"/><circle cx="4.9" cy="1.4" r="0.85" fill="#6d6d6d"/><circle cx="2.8" cy="5.3" r="0.6" fill="#6d6d6d" opacity="0.7"/></g>
<g transform="translate(174.7,246.2)"><path d="M-7.8 3.0 C-12 2.6 -19.19999999999999 3.3000000000000114 -23.69999999999999 8.800000000000011" fill="none" stroke="#a8a8a8" stroke-width="1.15" stroke-linecap="round"/><ellipse cx="-7.0" cy="6.6" rx="1.25" ry="2.0" fill="#a5a5a5"/><ellipse cx="-1.4" cy="8.5" rx="1.25" ry="2.0" fill="#a5a5a5"/><ellipse cx="6.8" cy="8.0" rx="1.25" ry="2.0" fill="#a5a5a5"/><ellipse cx="0" cy="0.5" rx="8.6" ry="7.7" fill="#e4e4e4" stroke="#b8b8b8" stroke-width="0.8"/><ellipse cx="2.9" cy="2.0" rx="5.6" ry="4.6" fill="#eeeeee"/><ellipse cx="-2.4" cy="-3.6" rx="2.3" ry="3.0" transform="rotate(-12 -2.4 -3.6)" fill="#aaaaaa"/><ellipse cx="-2.1" cy="-3.3" rx="1.3" ry="2.0" transform="rotate(-12 -2.1 -3.3)" fill="#c4c4c4"/><ellipse cx="8.1" cy="-3.8" rx="2.3" ry="3.0" transform="rotate(14 8.1 -3.8)" fill="#aaaaaa"/><ellipse cx="7.8" cy="-3.5" rx="1.3" ry="2.0" transform="rotate(14 7.8 -3.5)" fill="#c4c4c4"/><circle cx="0.5" cy="1.4" r="0.85" fill="#7a7a7a"/><circle cx="4.9" cy="1.4" r="0.85" fill="#7a7a7a"/><circle cx="2.8" cy="5.3" r="0.6" fill="#7a7a7a" opacity="0.7"/></g>
<g transform="translate(6.8,228.9) rotate(29.29)"><line x1="0" y1="-1.9" x2="0" y2="1.9" stroke="#333" stroke-width="1.1"/><line x1="0" y1="0" x2="4" y2="0" stroke="#333" stroke-width="0.9"/><line x1="4.1" y1="-2.4" x2="4.1" y2="2.4" stroke="#333" stroke-width="1.1"/><rect x="4.4" y="-1.5" width="13.2" height="3.0" fill="#f6f6f6" stroke="#555" stroke-width="0.5"/><rect x="11.4" y="-1.3" width="5.8" height="2.6" fill="#d8a21e"/><path d="M17.6 -1.5 L19.4 -0.5 L19.4 0.5 L17.6 1.5Z" fill="#ddd" stroke="#666" stroke-width="0.35"/><line x1="19.4" y1="0" x2="26.37" y2="0" stroke="#555" stroke-width="0.55"/></g>
<g transform="translate(80.9,229.5) rotate(36.75)"><line x1="0" y1="-1.2" x2="0" y2="1.2" stroke="#c8c8c8" stroke-width="0.9"/><line x1="0" y1="0" x2="10.5" y2="0" stroke="#d0d0d0" stroke-width="1.1"/><line x1="10.6" y1="-1.9" x2="10.6" y2="1.9" stroke="#c4c4c4" stroke-width="0.9"/><rect x="10.9" y="-1.15" width="15.2" height="2.3" fill="#f3f3f3" stroke="#c6c6c6" stroke-width="0.45"/><rect x="18.6" y="-0.95" width="7.2" height="1.9" fill="#9fcadc"/><line x1="26.1" y1="0" x2="29.58" y2="0" stroke="#9aa" stroke-width="0.5"/></g>
<path d="M224.7 262.6 L222.7 241.5 Q222.2 237.0 219.4 234.2 Q217.6 231.6 219.2 229.6 Q220.8 228.2 222.6 229.3 Q223.6 230.0 224.6 229.4 Q225.0 226.0 228.2 225.0 Q231.6 224.3 232.5 227.3 Q233.0 230.4 230.0 231.8 Q227.6 233.2 226.8 236.4 Q226.4 238.6 226.6 241.0 L228.7 262.4 Q228.7 264.1 226.7 264.1 Q224.8 264.1 224.7 262.6Z" fill="#e5d2a4" stroke="#d6c293" stroke-width="0.45"/>
<path d="M223.4 240.6 Q224.8 239.6 226.0 240.4 L227.6 262.2 Q226.5 263.0 225.4 262.4Z" fill="#9b3131"/>
<g>
<path d="M266.0 228.6 Q266.0 224.7 269.6 224.7 L304.6 224.7 Q307.1 224.9 307.1 227.6 L307.1 260.6 L266.0 260.6 Z" fill="#5e6174"/>
<rect x="266.0" y="260.2" width="41.1" height="1.3" fill="#4a4c5a"/>
<rect x="295.6" y="225.4" width="0.6" height="35.0" fill="#50535f"/>
<rect x="296.2" y="225.4" width="10.9" height="35.0" fill="#5a5d6f"/>
<defs><linearGradient id="tg" x1="0" x2="1" y1="0" y2="0"><stop offset="0" stop-color="#e2e2e4"/><stop offset="0.7" stop-color="#cfcfd3"/><stop offset="1" stop-color="#a9aab2"/></linearGradient></defs>
<path d="M269.4 229.4 Q269.4 226.0 272.2 226.0 L294.3 226.0 L294.3 229.4 Z" fill="url(#tg)"/>
<rect x="266.0" y="245.3" width="29.6" height="0.7" fill="#777a8c"/>
<rect x="266.4" y="246.0" width="20.0" height="6.0" fill="#63667a"/>
<rect x="278.2" y="236.2" width="3.8" height="1.5" fill="#d0d1d8"/>
<rect x="274.4" y="248.6" width="2.4" height="1.1" fill="#34363f"/>
<path d="M269.4 254.0 Q275.2 255.6 281.0 253.5 Q280.0 258.4 275.0 258.4 Q270.6 258.0 269.4 254.0 Z" fill="#ececee"/>
<path d="M287.0 247.6 L293.4 246.4 L293.4 249.6 L299.0 249.6 L299.0 259.8 L287.0 259.8 Z" fill="#cbccd0"/>
<rect x="289.0" y="249.0" width="4.0" height="10.2" fill="#e6e6e9"/>
<rect x="271.4" y="261.2" width="2.2" height="1.4" fill="#2e303a"/>
<rect x="294.0" y="261.2" width="2.2" height="1.4" fill="#2e303a"/>
</g>
<rect x="0.5" y="0.5" width="519" height="325" fill="none" stroke="#000" stroke-width="1"/>
</svg>
</body></html>
